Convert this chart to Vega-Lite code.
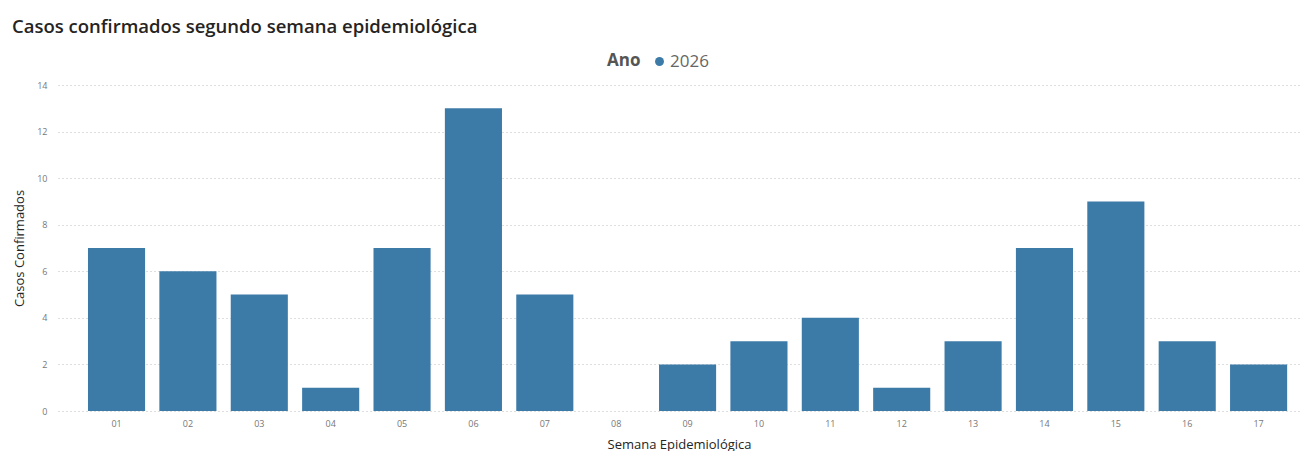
{
  "$schema": "https://vega.github.io/schema/vega-lite/v6.json",
  "autosize": {"type": "none"},
  "width": 1242,
  "height": 326,
  "padding": {"left": 58, "top": 85, "right": 2, "bottom": 40},
  "background": "white",
  "config": {
    "font": "Open Sans",
    "view": {"stroke": null}
  },
  "title": {
    "text": "Casos confirmados segundo semana epidemiológica",
    "anchor": "start",
    "frame": "group",
    "dx": -46,
    "fontSize": 18.5,
    "fontWeight": 600,
    "color": "#252423",
    "font": "Open Sans",
    "offset": 17
  },
  "data": {
    "values": [
      {"semana": "01", "casos": 7, "ano": "2026"},
      {"semana": "02", "casos": 6, "ano": "2026"},
      {"semana": "03", "casos": 5, "ano": "2026"},
      {"semana": "04", "casos": 1, "ano": "2026"},
      {"semana": "05", "casos": 7, "ano": "2026"},
      {"semana": "06", "casos": 13, "ano": "2026"},
      {"semana": "07", "casos": 5, "ano": "2026"},
      {"semana": "08", "casos": 0, "ano": "2026"},
      {"semana": "09", "casos": 2, "ano": "2026"},
      {"semana": "10", "casos": 3, "ano": "2026"},
      {"semana": "11", "casos": 4, "ano": "2026"},
      {"semana": "12", "casos": 1, "ano": "2026"},
      {"semana": "13", "casos": 3, "ano": "2026"},
      {"semana": "14", "casos": 7, "ano": "2026"},
      {"semana": "15", "casos": 9, "ano": "2026"},
      {"semana": "16", "casos": 3, "ano": "2026"},
      {"semana": "17", "casos": 2, "ano": "2026"}
    ]
  },
  "mark": {"type": "bar"},
  "encoding": {
    "x": {
      "field": "semana",
      "type": "ordinal",
      "sort": null,
      "scale": {"paddingInner": 0.2, "paddingOuter": 0.3, "align": 0.7},
      "axis": {
        "title": "Semana Epidemiológica",
        "titleFontSize": 13,
        "titleFontWeight": "normal",
        "titleColor": "#252423",
        "titlePadding": 10,
        "labelAngle": 0,
        "labelFontSize": 9,
        "labelColor": "#777777",
        "labelPadding": 8,
        "ticks": false,
        "domain": false,
        "grid": false
      }
    },
    "y": {
      "field": "casos",
      "type": "quantitative",
      "scale": {"domain": [0, 14], "nice": false},
      "axis": {
        "title": "Casos Confirmados",
        "titleFontSize": 13,
        "titleFontWeight": "normal",
        "titleColor": "#252423",
        "titlePadding": 10,
        "values": [0, 2, 4, 6, 8, 10, 12, 14],
        "labelFontSize": 9,
        "labelColor": "#777777",
        "labelPadding": 11,
        "ticks": false,
        "domain": false,
        "grid": true,
        "gridColor": "#bdbdbd",
        "gridDash": [1, 3],
        "gridWidth": 1
      }
    },
    "color": {
      "field": "ano",
      "type": "nominal",
      "scale": {"range": ["#3C7BA8"]},
      "legend": {
        "title": "Ano",
        "orient": "none",
        "legendX": 549,
        "legendY": -32,
        "direction": "horizontal",
        "titleOrient": "left",
        "titleFontSize": 17,
        "titleFontWeight": "bold",
        "titleColor": "#555555",
        "titlePadding": 10,
        "labelFontSize": 17,
        "labelColor": "#666666",
        "labelOffset": 2,
        "symbolType": "circle",
        "symbolSize": 80,
        "symbolStrokeWidth": 0
      }
    }
  }
}
